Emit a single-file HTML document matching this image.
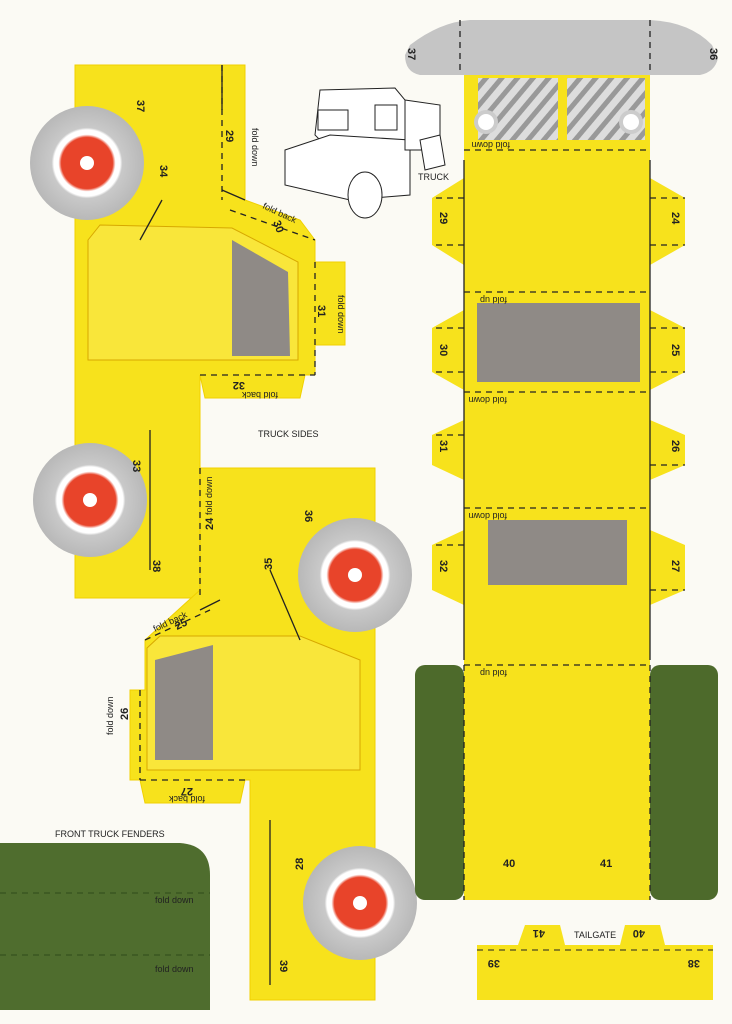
<!DOCTYPE html>
<html><head><meta charset="utf-8"><style>
html,body{margin:0;padding:0;background:#fbfaf4;}
svg{display:block}
text{font-family:"Liberation Sans",sans-serif;fill:#222}
.b{font-weight:bold;font-size:11px}
.s{font-size:9px}
</style></head><body>
<svg width="732" height="1024" viewBox="0 0 732 1024">
<defs>
<radialGradient id="wh" cx="50%" cy="50%" r="50%">
<stop offset="0.45" stop-color="#e8442a"/><stop offset="0.5" stop-color="#fff"/><stop offset="0.58" stop-color="#fff"/><stop offset="0.62" stop-color="#c9c9c9"/><stop offset="1" stop-color="#b8b8b8"/>
</radialGradient>
<pattern id="hatch" width="12" height="12" patternUnits="userSpaceOnUse" patternTransform="rotate(40)">
<rect width="12" height="12" fill="#ddd"/><rect width="5" height="12" fill="#999"/></pattern>
</defs>
<rect width="732" height="1024" fill="#fbfaf4"/>

<!-- upper left side -->
<g fill="#f7e21c" stroke="#f0d000">
<polygon points="75,65 245,65 245,200 300,220 315,240 315,262 345,262 345,345 315,345 315,375 305,375 300,398 205,398 200,375 200,598 75,598"/>
<polygon points="200,468 375,468 375,1000 250,1000 250,780 245,780 240,803 145,803 140,780 130,780 130,690 145,690 145,640 200,590"/>
</g>
<!-- cab lines upper -->
<polygon points="88,240 100,225 232,228 298,262 298,360 88,360" fill="#f9e63a" stroke="#d7a800"/>
<polygon points="232,240 288,272 290,356 232,356" fill="#8f8a86"/>
<!-- cab lower -->
<polygon points="147,648 160,636 300,636 360,660 360,770 147,770" fill="#f9e63a" stroke="#d7a800"/>
<polygon points="155,660 213,645 213,760 155,760" fill="#8f8a86"/>
<g stroke="#222" stroke-width="1.3" fill="none" stroke-dasharray="6,5">
<line x1="222" y1="65" x2="222" y2="200"/><line x1="230" y1="210" x2="315" y2="240"/>
<line x1="315" y1="262" x2="315" y2="375"/><line x1="200" y1="375" x2="315" y2="375"/>
<line x1="200" y1="468" x2="200" y2="598"/><line x1="145" y1="640" x2="210" y2="610"/>
<line x1="140" y1="690" x2="140" y2="780"/><line x1="140" y1="780" x2="250" y2="780"/>
</g>
<g stroke="#222" stroke-width="1.3" fill="none">
<line x1="222" y1="65" x2="222" y2="110"/><line x1="222" y1="190" x2="245" y2="200"/>
<line x1="140" y1="240" x2="162" y2="200"/><line x1="150" y1="430" x2="150" y2="570"/>
<line x1="270" y1="570" x2="300" y2="640"/><line x1="270" y1="820" x2="270" y2="985"/>
<line x1="220" y1="600" x2="200" y2="610"/>
</g>
<!-- wheels -->
<circle cx="87" cy="163" r="57" fill="url(#wh)"/><circle cx="87" cy="163" r="7" fill="#fff"/>
<circle cx="90" cy="500" r="57" fill="url(#wh)"/><circle cx="90" cy="500" r="7" fill="#fff"/>
<circle cx="355" cy="575" r="57" fill="url(#wh)"/><circle cx="355" cy="575" r="7" fill="#fff"/>
<circle cx="360" cy="903" r="57" fill="url(#wh)"/><circle cx="360" cy="903" r="7" fill="#fff"/>

<g class="b">
<text x="137" y="100" transform="rotate(90 137 100)">37</text>
<text x="226" y="130" transform="rotate(90 226 130)">29</text>
<text x="160" y="165" transform="rotate(90 160 165)">34</text>
<text x="273" y="222" transform="rotate(70 273 222)">30</text>
<text x="318" y="305" transform="rotate(90 318 305)">31</text>
<text x="245" y="380" transform="rotate(180 245 380)" dy="-2">32</text>
<text x="133" y="460" transform="rotate(90 133 460)">33</text>
<text x="153" y="560" transform="rotate(90 153 560)">38</text>
<text x="213" y="530" transform="rotate(-90 213 530)">24</text>
<text x="305" y="510" transform="rotate(90 305 510)">36</text>
<text x="272" y="570" transform="rotate(-90 272 570)">35</text>
<text x="177" y="630" transform="rotate(-25 177 630)">25</text>
<text x="128" y="720" transform="rotate(-90 128 720)">26</text>
<text x="193" y="785" transform="rotate(180 193 785)" dy="-3">27</text>
<text x="303" y="870" transform="rotate(-90 303 870)">28</text>
<text x="280" y="960" transform="rotate(90 280 960)">39</text>
</g>
<g class="s">
<text x="252" y="140" transform="rotate(90 252 140)" dx="-12">fold down</text>
<text x="262" y="208" transform="rotate(25 262 208)">fold back</text>
<text x="338" y="295" transform="rotate(90 338 295)">fold down</text>
<text x="278" y="392" transform="rotate(180 278 392)">fold back</text>
<text x="212" y="515" transform="rotate(-90 212 515)">fold down</text>
<text x="155" y="632" transform="rotate(-25 155 632)">fold back</text>
<text x="113" y="735" transform="rotate(-90 113 735)">fold down</text>
<text x="205" y="796" transform="rotate(180 205 796)">fold back</text>
<text x="258" y="437">TRUCK SIDES</text>
<text x="55" y="837">FRONT TRUCK FENDERS</text>
<text x="574" y="938">TAILGATE</text>
<text x="418" y="180">TRUCK</text>
</g>

<!-- truck sketch -->
<g stroke="#222" fill="#fff" stroke-width="1">
<polygon points="320,90 395,88 405,100 405,145 330,150 315,135"/>
<polygon points="285,150 330,135 410,140 410,195 350,200 285,185"/>
<polygon points="405,100 440,105 440,150 405,150"/>
<ellipse cx="365" cy="195" rx="17" ry="23"/>
<polygon points="420,140 440,135 445,165 425,170"/>
<rect x="318" y="110" width="30" height="20" fill="none"/>
<rect x="375" y="105" width="22" height="25" fill="none"/>
</g>

<!-- right strip -->
<path d="M410,45 Q440,22 470,20 L650,20 Q690,22 712,45 L718,58 Q715,72 700,75 L420,75 Q405,72 405,55 Z" fill="#c5c5c5"/>
<rect x="464" y="75" width="186" height="590" fill="#f7e21c"/>
<rect x="478" y="78" width="80" height="62" fill="url(#hatch)"/>
<rect x="567" y="78" width="78" height="62" fill="url(#hatch)"/>
<circle cx="486" cy="122" r="12" fill="#ccc"/><circle cx="486" cy="122" r="8" fill="#fff"/>
<circle cx="631" cy="122" r="12" fill="#ccc"/><circle cx="631" cy="122" r="8" fill="#fff"/>
<g fill="#f7e21c">
<polygon points="464,178 432,198 432,245 464,265"/><polygon points="650,178 685,198 685,245 650,265"/>
<polygon points="464,310 432,328 432,372 464,390"/><polygon points="650,310 685,328 685,372 650,390"/>
<polygon points="464,420 432,435 432,465 464,480"/><polygon points="650,420 685,435 685,465 650,480"/>
<polygon points="464,530 432,545 432,590 464,605"/><polygon points="650,530 685,545 685,590 650,605"/>
</g>
<rect x="415" y="665" width="49" height="235" rx="10" fill="#4d6a2b"/>
<rect x="650" y="665" width="68" height="235" rx="10" fill="#4d6a2b"/>
<rect x="464" y="665" width="186" height="235" fill="#f7e21c"/>
<rect x="477" y="303" width="163" height="79" fill="#8f8a86"/>
<rect x="488" y="520" width="139" height="65" fill="#8f8a86"/>
<g stroke="#222" stroke-width="1.3" stroke-dasharray="6,5" fill="none">
<line x1="464" y1="150" x2="650" y2="150"/><line x1="464" y1="292" x2="650" y2="292"/>
<line x1="464" y1="392" x2="650" y2="392"/><line x1="464" y1="508" x2="650" y2="508"/>
<line x1="464" y1="665" x2="650" y2="665"/>
<line x1="464" y1="665" x2="464" y2="900"/><line x1="650" y1="665" x2="650" y2="900"/>
<line x1="464" y1="198" x2="432" y2="198"/><line x1="464" y1="245" x2="432" y2="245"/>
<line x1="650" y1="198" x2="685" y2="198"/><line x1="650" y1="245" x2="685" y2="245"/>
<line x1="464" y1="328" x2="432" y2="328"/><line x1="650" y1="372" x2="685" y2="372"/>
<line x1="464" y1="372" x2="432" y2="372"/><line x1="650" y1="328" x2="685" y2="328"/>
<line x1="464" y1="435" x2="432" y2="435"/><line x1="650" y1="465" x2="685" y2="465"/>
<line x1="464" y1="545" x2="432" y2="545"/><line x1="650" y1="590" x2="685" y2="590"/>
<line x1="460" y1="20" x2="460" y2="75"/><line x1="650" y1="20" x2="650" y2="75"/>
</g>
<g stroke="#222" stroke-width="1.3">
<line x1="464" y1="160" x2="464" y2="660"/><line x1="650" y1="160" x2="650" y2="660"/>
</g>
<g class="b">
<text x="405" y="48" transform="rotate(90 405 48)" dx="0" dy="-3">37</text>
<text x="710" y="62" transform="rotate(90 710 62)" dx="-14">36</text>
<text x="440" y="212" transform="rotate(90 440 212)">29</text>
<text x="672" y="212" transform="rotate(90 672 212)">24</text>
<text x="440" y="344" transform="rotate(90 440 344)">30</text>
<text x="672" y="344" transform="rotate(90 672 344)">25</text>
<text x="440" y="440" transform="rotate(90 440 440)">31</text>
<text x="672" y="440" transform="rotate(90 672 440)">26</text>
<text x="440" y="560" transform="rotate(90 440 560)">32</text>
<text x="672" y="560" transform="rotate(90 672 560)">27</text>
<text x="503" y="867">40</text><text x="600" y="867">41</text>
</g>
<g class="s">
<text x="510" y="142" transform="rotate(180 510 142)">fold down</text>
<text x="507" y="297" transform="rotate(180 507 297)">fold up</text>
<text x="507" y="397" transform="rotate(180 507 397)">fold down</text>
<text x="507" y="513" transform="rotate(180 507 513)">fold down</text>
<text x="507" y="670" transform="rotate(180 507 670)">fold up</text>
</g>
<!-- fenders -->
<path d="M0,843 L180,843 Q210,845 210,875 L210,1010 L0,1010 Z" fill="#4f6d2e"/>
<g stroke="#2f4a1a" stroke-dasharray="6,5"><line x1="0" y1="893" x2="210" y2="893"/><line x1="0" y1="955" x2="210" y2="955"/></g>
<g class="s" style="fill:#cfd8b0"><text x="155" y="903">fold down</text><text x="155" y="972">fold down</text></g>
<!-- tailgate -->
<polygon points="477,945 518,945 525,925 560,925 565,945 620,945 625,925 660,925 665,945 713,945 713,1000 477,1000" fill="#f7e21c"/>
<g stroke="#222" stroke-dasharray="6,5"><line x1="477" y1="950" x2="713" y2="950"/></g>
<g class="b"><text x="500" y="960" transform="rotate(180 500 960)">39</text><text x="700" y="960" transform="rotate(180 700 960)">38</text>
<text x="545" y="930" transform="rotate(180 545 930)">41</text><text x="645" y="930" transform="rotate(180 645 930)">40</text></g>
</svg>
</body></html>
